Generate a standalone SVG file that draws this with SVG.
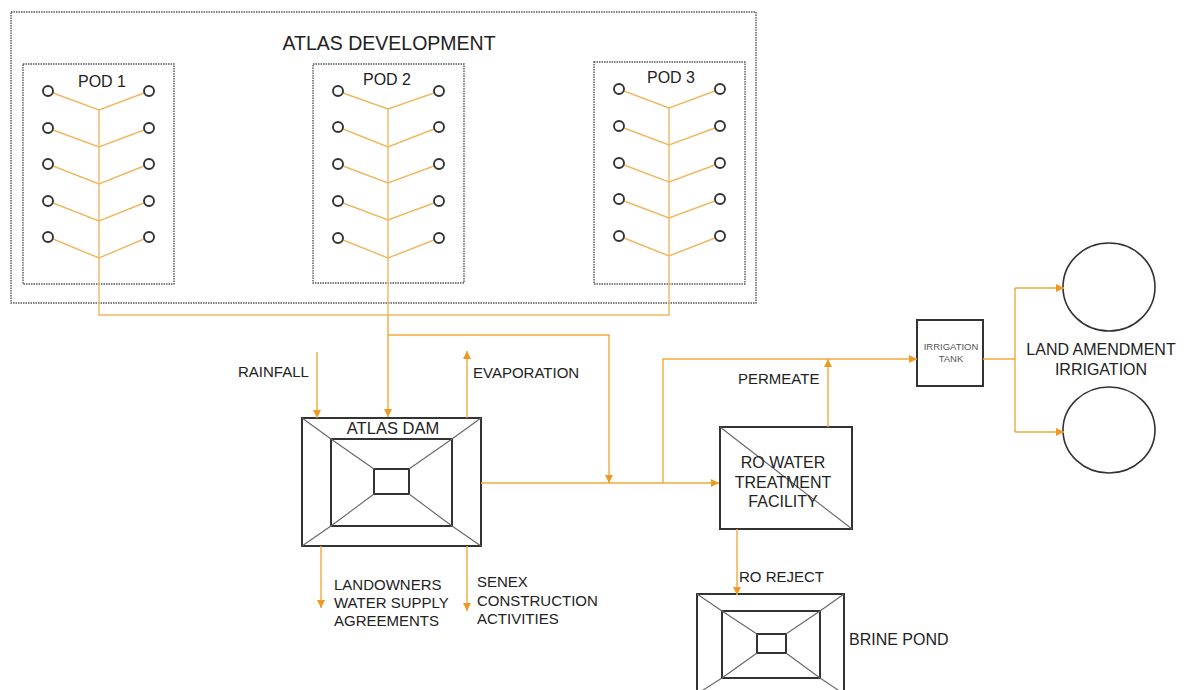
<svg xmlns="http://www.w3.org/2000/svg" width="1187" height="690" viewBox="0 0 1187 690">
<style>
  text { font-family: "Liberation Sans", Arial, sans-serif; fill: #222; }
  .dot { fill: none; stroke: #555; stroke-width: 1.4; stroke-dasharray: 1.5 1; }
  .well { fill: #fff; stroke: #333; stroke-width: 1.9; }
  .pipe { fill: none; stroke: #EDB863; stroke-width: 1.4; }
  .flow { fill: none; stroke: #F2A93B; stroke-width: 1.4; }
  .box { fill: #fff; stroke: #333; stroke-width: 2; }
  .diag { stroke: #666; stroke-width: 1.1; fill: none; }
  .lbl { font-size: 15px; }
</style>
<defs>
  <marker id="arr" markerUnits="userSpaceOnUse" markerWidth="10" markerHeight="10" viewBox="0 0 10 10" refX="9" refY="5" orient="auto">
    <path d="M1,1 L9,5 L1,9 Z" fill="#EE9A22"/>
  </marker>
</defs>
<rect width="1187" height="690" fill="#fff"/>

<g id="atlas-development">
  <rect class="dot" x="11" y="12" width="745" height="291"/>
  <text x="389" y="50" font-size="19.5" text-anchor="middle">ATLAS DEVELOPMENT</text>
</g>

<g id="pod1">
  <rect class="dot" x="23" y="64" width="151" height="220"/>
  <text x="102" y="87" font-size="16" text-anchor="middle">POD 1</text>
  <path class="pipe" d="M53,93 L99,110 L144,93 M53,130 L99,147 L144,130 M53,166 L99,184 L144,166 M53,203 L99,221 L144,203 M53,239 L99,258 L144,239"/>
  <g>
    <circle class="well" cx="48" cy="91" r="5"/><circle class="well" cx="149" cy="91" r="5"/>
    <circle class="well" cx="48" cy="128" r="5"/><circle class="well" cx="149" cy="128" r="5"/>
    <circle class="well" cx="48" cy="164" r="5"/><circle class="well" cx="149" cy="164" r="5"/>
    <circle class="well" cx="48" cy="201" r="5"/><circle class="well" cx="149" cy="201" r="5"/>
    <circle class="well" cx="48" cy="237" r="5"/><circle class="well" cx="149" cy="237" r="5"/>
  </g>
</g>

<g id="pod2">
  <rect class="dot" x="313" y="64" width="151" height="219"/>
  <text x="387" y="85" font-size="16" text-anchor="middle">POD 2</text>
  <path class="pipe" d="M343,93 L388,109 L434,93 M343,129 L388,147 L434,129 M343,166 L388,183 L434,166 M343,203 L388,220 L434,203 M343,240 L388,258 L434,240"/>
  <g>
    <circle class="well" cx="338" cy="91" r="5"/><circle class="well" cx="439" cy="91" r="5"/>
    <circle class="well" cx="338" cy="127" r="5"/><circle class="well" cx="439" cy="127" r="5"/>
    <circle class="well" cx="338" cy="164" r="5"/><circle class="well" cx="439" cy="164" r="5"/>
    <circle class="well" cx="338" cy="201" r="5"/><circle class="well" cx="439" cy="201" r="5"/>
    <circle class="well" cx="338" cy="238" r="5"/><circle class="well" cx="439" cy="238" r="5"/>
  </g>
</g>

<g id="pod3">
  <rect class="dot" x="594" y="62" width="151" height="222"/>
  <text x="671" y="83" font-size="16" text-anchor="middle">POD 3</text>
  <path class="pipe" d="M624,91 L669,108 L715,91 M624,128 L669,145 L715,128 M624,165 L669,182 L715,165 M624,201 L669,218 L715,201 M624,238 L669,256 L715,238"/>
  <g>
    <circle class="well" cx="619" cy="89" r="5"/><circle class="well" cx="720" cy="89" r="5"/>
    <circle class="well" cx="619" cy="126" r="5"/><circle class="well" cx="720" cy="126" r="5"/>
    <circle class="well" cx="619" cy="163" r="5"/><circle class="well" cx="720" cy="163" r="5"/>
    <circle class="well" cx="619" cy="199" r="5"/><circle class="well" cx="720" cy="199" r="5"/>
    <circle class="well" cx="619" cy="236" r="5"/><circle class="well" cx="720" cy="236" r="5"/>
  </g>
</g>

<g id="atlas-dam">
  <rect class="box" x="302" y="418" width="179" height="128"/>
  <rect class="box" x="331" y="439" width="121" height="87"/>
  <rect class="box" x="374" y="469" width="35" height="25"/>
  <path class="diag" d="M302,418 L331,439 M481,418 L452,439 M302,546 L331,526 M481,546 L452,526 M331,439 L374,469 M452,439 L409,469 M331,526 L374,494 M452,526 L409,494"/>
  <text x="393" y="434" font-size="16.5" text-anchor="middle">ATLAS DAM</text>
</g>

<g id="ro-facility">
  <rect class="box" x="720" y="427" width="132" height="102"/>
  <path class="diag" d="M720,427 L852,529"/>
  <text font-size="16" text-anchor="middle"><tspan x="783" y="468">RO WATER</tspan><tspan x="783" y="488">TREATMENT</tspan><tspan x="783" y="507">FACILITY</tspan></text>
</g>

<g id="brine-pond">
  <rect class="box" x="697" y="594" width="147" height="100"/>
  <rect class="box" x="722" y="611" width="98" height="67"/>
  <rect class="box" x="757" y="634" width="29" height="19"/>
  <path class="diag" d="M697,594 L722,611 M844,594 L820,611 M697,694 L722,678 M844,694 L820,678 M722,611 L757,634 M820,611 L786,634 M722,678 L757,653 M820,678 L786,653"/>
  <text x="849" y="645" font-size="16">BRINE POND</text>
</g>

<g id="irrigation-tank">
  <rect class="box" x="917" y="320" width="66" height="66"/>
  <text font-size="9.5" text-anchor="middle" style="fill:#555"><tspan x="951" y="350">IRRIGATION</tspan><tspan x="951" y="362">TANK</tspan></text>
</g>

<g id="irrigation-area-1">
  <ellipse cx="1109" cy="287" rx="46" ry="44" fill="#fff" stroke="#333" stroke-width="1.6"/>
</g>
<g id="irrigation-area-2">
  <ellipse cx="1109" cy="430" rx="46" ry="43" fill="#fff" stroke="#333" stroke-width="1.6"/>
</g>
<g id="land-amendment-label">
  <text font-size="16" text-anchor="middle"><tspan x="1101" y="355">LAND AMENDMENT</tspan><tspan x="1101" y="375">IRRIGATION</tspan></text>
</g>

<g id="connectors">
  <path class="pipe" d="M99,110 V315 H669 V108"/>
  <path class="pipe" d="M388,109 V315"/>
  <path class="flow" d="M388,315 V417" marker-end="url(#arr)"/>
  <path class="flow" d="M388,335 H609 V483" marker-end="url(#arr)"/>
  <path class="flow" d="M317,352 V418" marker-end="url(#arr)"/>
  <path class="flow" d="M467,418 V351" marker-end="url(#arr)"/>
  <path class="flow" d="M481,483 H719" marker-end="url(#arr)"/>
  <path class="flow" d="M663,483 V359 H917" marker-end="url(#arr)"/>
  <path class="flow" d="M828,427 V359" marker-end="url(#arr)"/>
  <path class="flow" d="M983,359 H1015 M1015,288 V432"/>
  <path class="flow" d="M1015,288 H1064" marker-end="url(#arr)"/>
  <path class="flow" d="M1015,432 H1064" marker-end="url(#arr)"/>
  <path class="flow" d="M321,546 V608" marker-end="url(#arr)"/>
  <path class="flow" d="M467,546 V611" marker-end="url(#arr)"/>
  <path class="flow" d="M737,529 V595" marker-end="url(#arr)"/>
</g>

<g id="labels">
  <text class="lbl" x="238" y="377">RAINFALL</text>
  <text class="lbl" x="473" y="378">EVAPORATION</text>
  <text class="lbl" x="738" y="384">PERMEATE</text>
  <text class="lbl" x="739" y="582">RO REJECT</text>
  <text class="lbl" font-size="14.5"><tspan x="334" y="590">LANDOWNERS</tspan><tspan x="334" y="608">WATER SUPPLY</tspan><tspan x="334" y="626">AGREEMENTS</tspan></text>
  <text class="lbl" font-size="14.5"><tspan x="477" y="587">SENEX</tspan><tspan x="477" y="606">CONSTRUCTION</tspan><tspan x="477" y="624">ACTIVITIES</tspan></text>
</g>
</svg>
